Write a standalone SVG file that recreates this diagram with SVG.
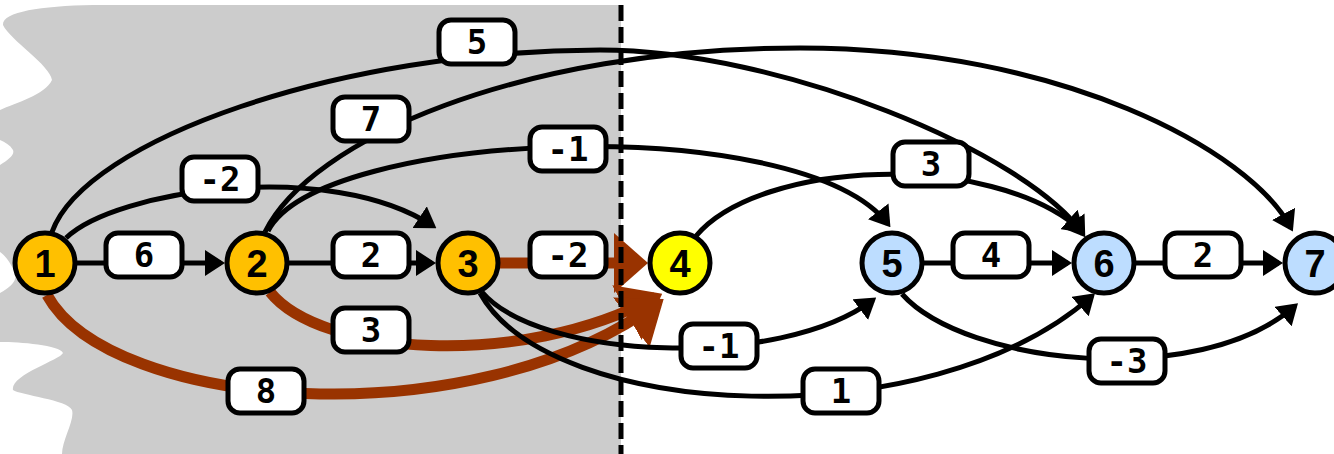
<svg xmlns="http://www.w3.org/2000/svg" width="1334" height="454" viewBox="0 0 1334 454">
<style>
.e{fill:none;stroke:#000;stroke-width:5}
.b{fill:none;stroke:#993300;stroke-width:11}
.lb rect{fill:#fff;stroke:#000;stroke-width:5}
.lb text{font-family:"DejaVu Sans Mono","Liberation Mono",monospace;font-weight:bold;font-size:34px;text-anchor:middle;fill:#000}
.n circle{stroke:#000;stroke-width:5}
.n text{font-family:"Liberation Sans",Arial,sans-serif;font-weight:bold;font-size:38px;text-anchor:middle;fill:#000}
.o{fill:#FFC000}.y{fill:#FFFF00}.l{fill:#BDDDFF}
</style>
<defs>
<marker id="ak" markerUnits="userSpaceOnUse" viewBox="0 0 20 26" markerWidth="20" markerHeight="26" refX="16" refY="13" orient="auto"><path d="M0,0 L20,13 L0,26 z" fill="#000"/></marker>
<marker id="ab" markerUnits="userSpaceOnUse" viewBox="0 0 34 60" markerWidth="34" markerHeight="60" refX="27" refY="30" orient="auto"><path d="M0,0 L34,30 L0,60 z" fill="#993300"/></marker>
<marker id="ab2" markerUnits="userSpaceOnUse" viewBox="0 0 40 62" markerWidth="40" markerHeight="62" refX="33" refY="31" orient="auto"><path d="M0,0 L40,31 L0,62 z" fill="#993300"/></marker>
</defs>
<path id="bg" d="M93,5 L621,5 L621,454 L62,454 C62,440 75,420 72,410 C68,400 20,395 13,390 C10,375 60,360 63,353 C60,345 20,342 0,342 L0,293 C10,288 18,280 15,273 C12,265 5,255 0,252 L0,165 C8,160 15,155 13,150 C10,145 5,142 0,140 L0,110 C15,103 45,95 52,80 C50,65 10,40 3,25 C2,12 40,6 93,5 Z" fill="#CCCCCC"/>
<g id="connectors">
<path class="b" d="M498,263 L641,263" marker-end="url(#ab)"/>
<path class="b" d="M270,292 C320,355 520,370 656,297" marker-end="url(#ab2)"/>
<path class="b" d="M47,295 C110,410 470,440 658,303" marker-end="url(#ab2)"/>
<path class="e" d="M77,263 L221,263" marker-end="url(#ak)"/>
<path class="e" d="M289,263 L432,263" marker-end="url(#ak)"/>
<path class="e" d="M924,263 L1068,263" marker-end="url(#ak)"/>
<path class="e" d="M1136,263 L1279,263" marker-end="url(#ak)"/>
<path class="e" d="M66,238 C115,190 330,158 433,226" marker-end="url(#ak)"/>
<path class="e" d="M52,232 C85,140 340,50 600,50 C780,50 1026,152 1083,234" marker-end="url(#ak)"/>
<path class="e" d="M265,232 C310,140 520,48 800,48 C1060,48 1250,150 1291,228" marker-end="url(#ak)"/>
<path class="e" d="M268,231 C320,130 800,110 888,224" marker-end="url(#ak)"/>
<path class="e" d="M696,236 C760,160 990,150 1081,230" marker-end="url(#ak)"/>
<path class="e" d="M482,292 C540,360 780,370 873,300" marker-end="url(#ak)"/>
<path class="e" d="M480,293 C550,420 930,440 1092,296" marker-end="url(#ak)"/>
<path class="e" d="M902,294 C965,365 1200,390 1295,306" marker-end="url(#ak)"/>
</g>
<line id="divider" x1="621" y1="5" x2="621" y2="454" stroke="#000" stroke-width="5" stroke-dasharray="16 6"/>
<g id="labels">
<g id="l12" class="lb"><rect x="106" y="233" width="76" height="44" rx="12"/><text x="144" y="267">6</text></g>
<g id="l23" class="lb"><rect x="333" y="233" width="76" height="44" rx="12"/><text x="371" y="267">2</text></g>
<g id="l34" class="lb"><rect x="530" y="233" width="76" height="44" rx="12"/><text x="568" y="267">-2</text></g>
<g id="l56" class="lb"><rect x="953" y="233" width="76" height="44" rx="12"/><text x="991" y="267">4</text></g>
<g id="l67" class="lb"><rect x="1165" y="233" width="76" height="44" rx="12"/><text x="1203" y="267">2</text></g>
<g id="l13" class="lb"><rect x="182" y="157" width="76" height="44" rx="12"/><text x="220" y="191">-2</text></g>
<g id="l16" class="lb"><rect x="439" y="20" width="76" height="44" rx="12"/><text x="477" y="54">5</text></g>
<g id="l27" class="lb"><rect x="333" y="97" width="76" height="44" rx="12"/><text x="371" y="131">7</text></g>
<g id="l25" class="lb"><rect x="530" y="127" width="76" height="44" rx="12"/><text x="568" y="161">-1</text></g>
<g id="l46" class="lb"><rect x="893" y="142" width="76" height="44" rx="12"/><text x="931" y="176">3</text></g>
<g id="l24" class="lb"><rect x="333" y="308" width="76" height="44" rx="12"/><text x="371" y="342">3</text></g>
<g id="l14" class="lb"><rect x="228" y="369" width="76" height="44" rx="12"/><text x="266" y="403">8</text></g>
<g id="l35" class="lb"><rect x="681" y="324" width="76" height="44" rx="12"/><text x="719" y="358">-1</text></g>
<g id="l36" class="lb"><rect x="803" y="369" width="76" height="44" rx="12"/><text x="841" y="403">1</text></g>
<g id="l57" class="lb"><rect x="1089" y="339" width="76" height="44" rx="12"/><text x="1127" y="373">-3</text></g>
</g>
<g id="node1" class="n"><circle class="o" cx="45" cy="263" r="30"/><text x="45" y="277">1</text></g>
<g id="node2" class="n"><circle class="o" cx="257" cy="263" r="30"/><text x="257" y="277">2</text></g>
<g id="node3" class="n"><circle class="o" cx="468" cy="263" r="30"/><text x="468" y="277">3</text></g>
<g id="node4" class="n"><circle class="y" cx="680" cy="263" r="30"/><text x="680" y="277">4</text></g>
<g id="node5" class="n"><circle class="l" cx="892" cy="263" r="30"/><text x="892" y="277">5</text></g>
<g id="node6" class="n"><circle class="l" cx="1104" cy="263" r="30"/><text x="1104" y="277">6</text></g>
<g id="node7" class="n"><circle class="l" cx="1315" cy="263" r="30"/><text x="1315" y="277">7</text></g>
</svg>
